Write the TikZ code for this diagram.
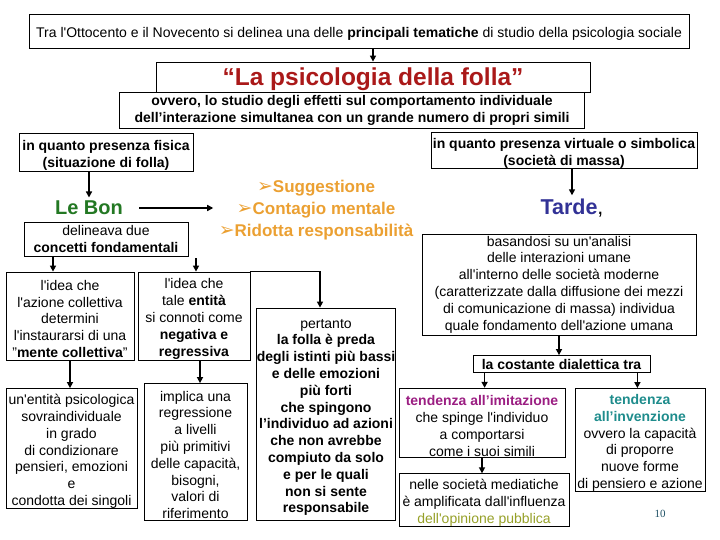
\documentclass[tikz,border=0pt]{standalone}
\usepackage{fontspec}
\setmainfont{Liberation Sans}
\newfontfamily\symfont{DejaVu Sans}
\newfontfamily\numfont{Liberation Serif}
\usetikzlibrary{arrows.meta}
\definecolor{follared}{RGB}{170,25,25}
\definecolor{bongreen}{RGB}{35,120,35}
\definecolor{sugorange}{RGB}{235,160,50}
\definecolor{tardeblue}{RGB}{50,50,150}
\definecolor{imitmagenta}{RGB}{155,30,130}
\definecolor{invteal}{RGB}{30,140,140}
\definecolor{opinolive}{RGB}{150,160,40}
\definecolor{numteal}{RGB}{30,80,100}
\newcommand{\fs}[2]{\fontsize{#1}{#2}\selectfont}
\newcommand{\q}{\textquotesingle}
\newcommand{\fl}{\rule{0pt}{16pt}}
\newcommand{\pt}{{\symfont\fs{19}{22}➢}}
\tikzset{
  box/.style={draw, line width=0.8pt, align=center, inner sep=0pt, font=\fs{14}{16.8}},
  arr/.style={-{Triangle[length=6pt,width=6pt]}, line width=1.6pt},
}
\begin{document}
\begin{tikzpicture}[x=1pt,y=-1pt]
  \useasboundingbox (0,0) rectangle (720,540);
  % intestazione
  \node[box, minimum width=660, minimum height=34] (top) at (359,31)
    {\fl Tra l\q Ottocento e il Novecento si delinea una delle \textbf{principali tematiche} di studio della psicologia sociale};
  \node[box, minimum width=434, minimum height=30, font=\fs{24.5}{27}\bfseries, text=follared] (title) at (373,77)
    {\rule{0pt}{22pt}“La psicologia della folla”};
  \node[box, minimum width=465, minimum height=36, font=\fs{14}{17}\bfseries] (sub) at (352,110)
    {ovvero, lo studio degli effetti sul comportamento individuale\\dell’interazione simultanea con un grande numero di propri simili};
  % presenza fisica / virtuale
  \node[box, minimum width=174, minimum height=38, font=\fs{14}{17}\bfseries] (leftpres) at (106,152)
    {\fl in quanto presenza fisica\\(situazione di folla)};
  \node[box, minimum width=266, minimum height=36, font=\fs{14}{17}\bfseries] (rightpres) at (564,150.5)
    {\fl in quanto presenza virtuale o simbolica\\(società di massa)};
  % Le Bon
  \node[font=\fs{20}{23}\bfseries, text=bongreen] (lebon) at (89,208) {Le Bon};
  \node[align=center, font=\fs{17}{22}\bfseries, text=sugorange] (bullets) at (316,210)
    {\pt Suggestione\\\pt Contagio mentale\\\pt Ridotta responsabilità};
  \node[box, minimum width=164, minimum height=34] (delin) at (106,239)
    {delineava due\\\textbf{concetti fondamentali}};
  \node[box, minimum width=128, minimum height=88] (left1) at (70,316)
    {\fl l\q idea che\\l\q azione collettiva\\determini\\l\q instaurarsi di una\\"\textbf{mente collettiva}"};
  \node[box, minimum width=112, minimum height=88] (mid1) at (194,316)
    {\fl l\q idea che\\tale \textbf{entità}\\si connoti come\\\textbf{negativa e}\\\textbf{regressiva}};
  \node[box, minimum width=131, minimum height=120] (left2) at (71.5,448.5)
    {\fl un\q entità psicologica\\sovraindividuale\\in grado\\di condizionare\\pensieri, emozioni\\e\\condotta dei singoli};
  \node[box, minimum width=103, minimum height=137] (mid2) at (195.5,452)
    {\fl implica una\\regressione\\a livelli\\più primitivi\\delle capacità,\\bisogni,\\valori di\\riferimento};
  \node[box, minimum width=138, minimum height=212] (pert) at (326,414)
    {\fl pertanto\\\textbf{la folla è preda}\\\textbf{degli istinti più bassi}\\\textbf{e delle emozioni}\\\textbf{più forti}\\\textbf{che spingono}\\\textbf{l’individuo ad azioni}\\\textbf{che non avrebbe}\\\textbf{compiuto da solo}\\\textbf{e per le quali}\\\textbf{non si sente}\\\textbf{responsabile}};
  % Tarde
  \node[font=\fs{21.5}{24}] (tarde) at (572,208) {\textcolor{tardeblue}{\bfseries Tarde},};
  \node[box, minimum width=274, minimum height=101] (tardebox) at (559,284.5)
    {basandosi su un\q analisi\\delle interazioni umane\\all\q interno delle società moderne\\(caratterizzate dalla diffusione dei mezzi\\di comunicazione di massa) individua\\quale fondamento dell\q azione umana};
  \node[box, minimum width=177, minimum height=17, font=\fs{14}{16.8}\bfseries] (cost) at (561.5,364)
    {la costante dialettica tra};
  \node[box, minimum width=166, minimum height=69.5] (imit) at (482,423)
    {\fl\textcolor{imitmagenta}{\bfseries tendenza all’imitazione}\\che spinge l\q individuo\\a comportarsi\\come i suoi simili};
  \node[box, minimum width=130, minimum height=103] (inv) at (640,440)
    {\fl\textcolor{invteal}{\bfseries tendenza}\\\textcolor{invteal}{\bfseries all’invenzione}\\ovvero la capacità\\di proporre\\nuove forme\\di pensiero e azione};
  \node[box, minimum width=170, minimum height=52.5] (media) at (484,500)
    {\fl nelle società mediatiche\\è amplificata dall\q influenza\\\textcolor{opinolive}{dell\q opinione pubblica}};
  \node[font=\numfont\fs{11}{12}, text=numteal] (pagenum) at (660,514) {10};
  % frecce
  \draw[arr] (top.south -| title.north) -- (title.north);
  \draw[arr] (leftpres.south -| lebon.north) -- (lebon.north);
  \draw[arr] (rightpres.south -| tarde.north) -- (tarde.north);
  \draw[arr] ([xshift=13pt]lebon.east) -- ([xshift=-2pt]lebon.east -| bullets.west);
  \draw[arr] ([xshift=-53pt]delin.south) -- ([xshift=-53pt]delin.south |- left1.north);
  \coordinate (midtop) at (196,258);
  \draw[arr] (midtop) -- (midtop |- mid1.north);
  \draw[arr] (mid1.north east) -| ([xshift=-6pt]pert.north);
  \draw[arr] (left1.south) -- (left1.south |- left2.north);
  \draw[arr] ([xshift=6pt]mid1.south) -- ([xshift=6pt]mid1.south |- mid2.north);
  \draw[arr] (tardebox.south) -- (tardebox.south |- cost.north);
  \draw[arr] ([xshift=12pt]cost.south west) -- ([xshift=12pt]cost.south west |- imit.north);
  \draw[arr] ([xshift=-13pt]cost.south east) -- ([xshift=-13pt]cost.south east |- inv.north);
  \draw[arr] (imit.south) -- (imit.south |- media.north);
\end{tikzpicture}
\end{document}
